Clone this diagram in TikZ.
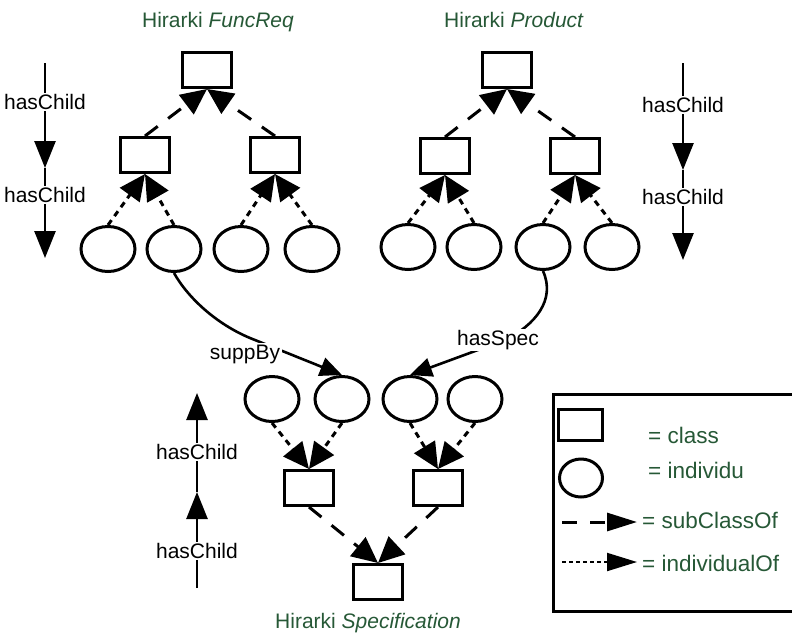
\documentclass[tikz,border=0pt]{standalone}
\usepackage{fontspec}
\setmainfont{Liberation Sans}
\usetikzlibrary{arrows.meta,shapes.geometric}
\definecolor{ttl}{RGB}{38,88,54}
\tikzset{
  cls/.style={draw, line width=3pt, minimum width=49pt, minimum height=35pt, inner sep=0pt},
  ind/.style={ellipse, draw, line width=3pt, minimum width=54pt, minimum height=45pt, inner sep=0pt},
  bigtip/.style={-{Triangle[length=26pt,width=24pt]}},
  sub/.style={line width=3pt, dash pattern=on 16pt off 13pt, bigtip},
  ins/.style={line width=3pt, dash pattern=on 6pt off 5pt, bigtip},
  rel/.style={line width=2.6pt, -{Triangle[length=22pt,width=19pt]}},
  hc/.style={line width=2.6pt, -{Triangle[length=27pt,width=21pt]}},
  lbl/.style={fill=white, inner sep=1.5pt, font=\fontsize{21}{25}\selectfont},
  title/.style={text=ttl, anchor=base, inner sep=0pt, font=\fontsize{21}{25}\selectfont},
  leg/.style={text=ttl, anchor=west, inner sep=0pt, font=\fontsize{22.5}{27}\selectfont},
}
\begin{document}
\begin{tikzpicture}[x=1pt,y=1pt]
\useasboundingbox (0,0) rectangle (792,-638);
\clip (0,0) rectangle (792,-638);
% titles
\node[title] (tfr) at (218,-27) {Hirarki \textit{FuncReq}};
\node[title] (tpr) at (514,-27) {Hirarki \textit{Product}};
\node[title] (tsp) at (368,-628) {Hirarki \textit{Specification}};
% left tree
\node[cls] (t1) at (207,-70) {};
\node[cls] (m1) at (145,-155) {};
\node[cls] (m2) at (275,-155) {};
\node[ind] (a1) at (108,-249) {};
\node[ind] (a2) at (174,-249) {};
\node[ind] (a3) at (241,-249) {};
\node[ind] (a4) at (312,-249) {};
\draw[sub] (m1.north) -- (t1.south);
\draw[sub] (m2.north) -- (t1.south);
\draw[ins] (a1.north) -- (m1.south);
\draw[ins] (a2.north) -- (m1.south);
\draw[ins] (a3.north) -- (m2.south);
\draw[ins] (a4.north) -- (m2.south);
% right tree
\node[cls] (t2) at (507,-70) {};
\node[cls] (m3) at (445,-156) {};
\node[cls] (m4) at (575,-156) {};
\node[ind] (b1) at (408,-247) {};
\node[ind] (b2) at (474,-247) {};
\node[ind] (b3) at (543,-247) {};
\node[ind] (b4) at (612,-247) {};
\draw[sub] (m3.north) -- (t2.south);
\draw[sub] (m4.north) -- (t2.south);
\draw[ins] (b1.north) -- (m3.south);
\draw[ins] (b2.north) -- (m3.south);
\draw[ins] (b3.north) -- (m4.south);
\draw[ins] (b4.north) -- (m4.south);
% bottom tree
\node[ind] (c1) at (272,-399) {};
\node[ind] (c2) at (342,-399) {};
\node[ind] (c3) at (410,-399) {};
\node[ind] (c4) at (475,-399) {};
\node[cls] (n1) at (309,-488) {};
\node[cls] (n2) at (438,-488) {};
\node[cls] (r) at (378,-582) {};
\draw[ins] (c1.south) -- (n1.north);
\draw[ins] (c2.south) -- (n1.north);
\draw[ins] (c3.south) -- (n2.north);
\draw[ins] (c4.south) -- (n2.north);
\draw[sub] (n1.south) -- (r.north);
\draw[sub] (n2.south) -- (r.north);
% relations
\draw[rel] (a2.south) .. controls (188,-298) and (218,-326) .. (255,-340) -- (c2.north);
\node[lbl] (lsb) at (245,-354) {suppBy};
\draw[rel] (b3.south) .. controls (556,-300) and (535,-325) .. (505,-340) -- (c3.north);
\node[lbl] (lhs) at (498,-340) {hasSpec};
% hasChild columns
\coordinate (L0) at (45,-63);
\coordinate (L1) at (45,-168);
\coordinate (L2) at (45,-258);
\draw[hc] (L0) -- (L1);
\draw[hc] (L1) -- (L2);
\node[lbl] (lh1) at (45,-102) {hasChild};
\node[lbl] (lh2) at (45,-195) {hasChild};
\coordinate (R0) at (683,-63);
\coordinate (R1) at (683,-170);
\coordinate (R2) at (683,-260);
\draw[hc] (R0) -- (R1);
\draw[hc] (R1) -- (R2);
\node[lbl] (rh1) at (683,-105) {hasChild};
\node[lbl] (rh2) at (683,-197) {hasChild};
\coordinate (B0) at (197,-588);
\coordinate (B1) at (197,-492);
\coordinate (B2) at (197,-393);
\draw[hc] (B0) -- (B1);
\draw[hc] (B1) -- (B2);
\node[lbl] (bh1) at (197,-551) {hasChild};
\node[lbl] (bh2) at (197,-452) {hasChild};
% legend
\node[draw, line width=3pt, minimum width=248pt, minimum height=217pt, inner sep=0pt, anchor=north west] (legbox) at (552,-393) {};
\node[cls, minimum width=44pt, minimum height=31pt] (lgc) at (580.5,-425) {};
\node[ind, minimum width=43pt, minimum height=38pt] (lgi) at (581,-478) {};
\coordinate (ls0) at (562,-522);
\coordinate (ls1) at (637,-522);
\coordinate (li0) at (562,-562);
\coordinate (li1) at (637,-562);
\draw[sub, dash pattern=on 15pt off 13pt, -{Triangle[length=30pt,width=18pt]}] (ls0) -- (ls1);
\draw[ins, line width=2pt, dash pattern=on 4pt off 3pt, -{Triangle[length=30pt,width=18pt]}] (li0) -- (li1);
\node[leg] (lt1) at (648,-435) {= class};
\node[leg] (lt2) at (648,-470) {= individu};
\node[leg] (lt3) at (642,-520) {= subClassOf};
\node[leg] (lt4) at (642,-563) {= individualOf};
\end{tikzpicture}
\end{document}
